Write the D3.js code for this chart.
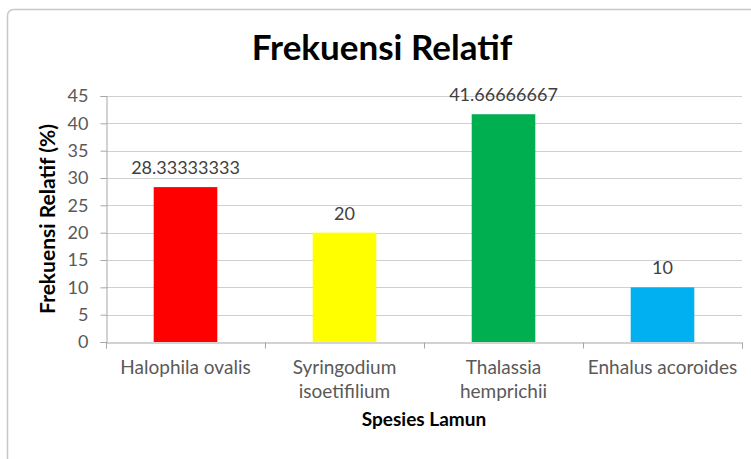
<!DOCTYPE html>
<html>
<head>
<meta charset="utf-8">
<script src="https://cdn.jsdelivr.net/npm/d3@7"></script>
<style>
  body { margin: 0; background: #fff; }
  svg { display: block; font-family: Lato, "Open Sans", sans-serif; }
</style>
</head>
<body>
<svg id="chart" width="751" height="459"></svg>
<script>
// Data
const categories = ["Halophila ovalis", "Syringodium isoetifilium", "Thalassia hemprichii", "Enhalus acoroides"];
const categoryLines = [["Halophila ovalis"], ["Syringodium", "isoetifilium"], ["Thalassia", "hemprichii"], ["Enhalus acoroides"]];
const values = [28.33333333, 20, 41.66666667, 10];
const valueLabels = ["28.33333333", "20", "41.66666667", "10"];
const barColors = ["#FF0000", "#FFFF00", "#00B050", "#00B0F0"];
const yTicks = [0, 5, 10, 15, 20, 25, 30, 35, 40, 45];

// Layout
const plot = { left: 106, right: 742, top: 96, bottom: 342 };

const svg = d3.select("#chart");

// chart frame (only top and left edge are visible in the crop)
svg.append("rect")
    .attr("x", 7.5).attr("y", 9.5)
    .attr("width", 800).attr("height", 500)
    .attr("rx", 6)
    .attr("fill", "#fff")
    .attr("stroke", "#c8c8c8")
    .attr("stroke-width", 1.5);

const x = d3.scaleBand()
    .domain(categories)
    .range([plot.left, plot.right])
    .paddingInner(0.6)
    .paddingOuter(0.3);

const y = d3.scaleLinear()
    .domain([0, 45])
    .range([plot.bottom, plot.top]);

// gridlines
svg.append("g")
    .selectAll("line")
    .data(yTicks.filter(d => d > 0))
    .join("line")
    .attr("x1", plot.left).attr("x2", plot.right)
    .attr("y1", d => Math.round(y(d)) + 0.5)
    .attr("y2", d => Math.round(y(d)) + 0.5)
    .attr("stroke", "#d0d0d0")
    .attr("stroke-width", 1);

// bars
svg.append("g")
    .selectAll("rect")
    .data(values)
    .join("rect")
    .attr("x", (d, i) => x(categories[i]))
    .attr("y", d => y(d))
    .attr("width", x.bandwidth())
    .attr("height", d => y(0) - y(d))
    .attr("fill", (d, i) => barColors[i]);

// data labels
svg.append("g")
    .selectAll("text")
    .data(values)
    .join("text")
    .attr("x", (d, i) => x(categories[i]) + x.bandwidth() / 2)
    .attr("y", d => y(d) - 13)
    .attr("text-anchor", "middle")
    .attr("fill", "#404040")
    .style("font-size", "18px")
    .text((d, i) => valueLabels[i]);

// y axis
const yAxis = svg.append("g")
    .attr("transform", `translate(${plot.left + 0.5},0)`)
    .call(d3.axisLeft(y).tickValues(yTicks).tickSize(6).tickPadding(12));
yAxis.select(".domain").attr("stroke", "#a6a6a6");
yAxis.selectAll(".tick line").attr("stroke", "#a6a6a6");
yAxis.selectAll(".tick text")
    .attr("fill", "#595959")
    .style("font-size", "18px")
    .style("font-family", "Lato, sans-serif");

// x axis
const xEdges = d3.scalePoint()
    .domain(d3.range(categories.length + 1))
    .range([plot.left, plot.right]);
const xAxis = svg.append("g")
    .attr("transform", `translate(0,${plot.bottom + 0.5})`)
    .call(d3.axisBottom(xEdges).tickSize(6).tickFormat(""));
xAxis.select(".domain").attr("stroke", "#a6a6a6");
xAxis.selectAll(".tick line").attr("stroke", "#a6a6a6");

// category labels
svg.append("g")
    .selectAll("text")
    .data(categories)
    .join("text")
    .attr("x", d => x(d) + x.bandwidth() / 2)
    .attr("y", 374)
    .attr("text-anchor", "middle")
    .attr("fill", "#595959")
    .style("font-size", "19px")
    .each(function(d, i) {
        d3.select(this).selectAll("tspan")
            .data(categoryLines[i])
            .join("tspan")
            .attr("x", x(d) + x.bandwidth() / 2)
            .attr("dy", (t, j) => j === 0 ? 0 : 24)
            .text(t => t);
    });

// title
svg.append("text")
    .attr("x", 382)
    .attr("y", 60)
    .attr("text-anchor", "middle")
    .attr("fill", "#000")
    .style("font-size", "35px")
    .style("font-weight", "bold")
    .text("Frekuensi Relatif");

// axis titles
svg.append("text")
    .attr("x", (plot.left + plot.right) / 2)
    .attr("y", 426)
    .attr("text-anchor", "middle")
    .attr("fill", "#000")
    .style("font-size", "19px")
    .style("font-weight", "bold")
    .text("Spesies Lamun");

svg.append("text")
    .attr("transform", `translate(55,${(plot.top + plot.bottom) / 2}) rotate(-90)`)
    .attr("text-anchor", "middle")
    .attr("fill", "#000")
    .style("font-size", "21px")
    .style("font-weight", "bold")
    .text("Frekuensi Relatif (%)");
</script>
</body>
</html>
